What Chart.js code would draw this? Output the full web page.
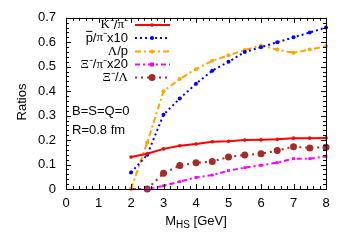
<!DOCTYPE html>
<html>
<head>
<meta charset="utf-8">
<script src="https://cdn.jsdelivr.net/npm/chart.js@4"></script>
<style>
  html, body { margin: 0; padding: 0; background: #fff; }
  #wrap { width: 350px; height: 245px; }
</style>
</head>
<body>
<div id="wrap"><canvas id="chart" width="350" height="245"></canvas></div>
<script>
// values
const massGeV = [2, 2.5, 3, 3.5, 4, 4.5, 5, 5.5, 6, 6.5, 7, 7.5, 8];
const kaonPion = [0.131, 0.144, 0.164, 0.177, 0.184, 0.193, 0.195, 0.2, 0.201, 0.203, 0.208, 0.208, 0.209];
const pbarPionX10 = [0.067, 0.14, 0.304, 0.37, 0.43, 0.484, 0.52, 0.56, 0.58, 0.6, 0.62, 0.64, 0.66];
const lambdaProton = [0, 0.19, 0.4, 0.45, 0.49, 0.524, 0.547, 0.568, 0.587, 0.57, 0.557, 0.57, 0.584];
const xiPionX20 = [0, 0, 0.013, 0.03, 0.047, 0.057, 0.075, 0.087, 0.097, 0.108, 0.124, 0.124, 0.133];
const xiLambda = [null, 0, 0.064, 0.096, 0.107, 0.112, 0.131, 0.139, 0.144, 0.157, 0.173, 0.168, 0.171];

const seriesNames = ['K\u207B/\u03C0\u207B', 'p\u0304/\u03C0\u207Bx10', '\u039B/p', '\u039E\u207B/\u03C0\u207Bx20', '\u039E\u207B/\u039B'];
const xTicks = [0, 1, 2, 3, 4, 5, 6, 7, 8];
const yTicks = [0, 0.1, 0.2, 0.3, 0.4, 0.5, 0.6, 0.7];
const noteLines = ['B=S=Q=0', 'R=0.8 fm'];

const SANS = '"Liberation Sans", Arial, sans-serif';
const SERIF = '"Liberation Serif", "Times New Roman", serif';

const toPoints = (ys) => massGeV.map((x, i) => ({ x, y: ys[i] }));

const styles = [
  { color: '#ff0000', dash: [], width: 2, radius: 1.8, point: 'circle' },
  { color: '#0000ff', dash: [2, 3], width: 2, radius: 2, point: 'circle' },
  { color: '#ffa500', dash: [6, 3, 2, 3], width: 2, radius: 2, point: 'circle' },
  { color: '#ff00ff', dash: [5, 3, 2, 3], width: 2, radius: 2, point: 'rect' },
  { color: '#a52a2a', dash: [2, 4], width: 2, radius: 3.5, point: 'circle' },
];
const allSeries = [kaonPion, pbarPionX10, lambdaProton, xiPionX20, xiLambda];

// draw a label char by char: greek / K / minus in serif, rest in sans
function drawRich(ctx, text, xRight, y, size) {
  const chars = [...text];
  const pieces = [];
  for (let i = 0; i < chars.length; i++) {
    const c = chars[i];
    if (c === '\u0304') { pieces[pieces.length - 1].bar = true; continue; }
    const serif = 'K\u039B\u039E\u03C0\u207B'.includes(c);
    pieces.push({ c, font: `${size}px ${serif ? SERIF : SANS}` });
  }
  let total = 0;
  pieces.forEach((p) => { ctx.font = p.font; p.w = ctx.measureText(p.c).width; total += p.w; });
  let x = xRight - total;
  ctx.textBaseline = 'middle';
  ctx.textAlign = 'left';
  pieces.forEach((p) => {
    ctx.font = p.font;
    ctx.fillText(p.c, x, y);
    if (p.bar) {
      ctx.fillRect(x + 0.5, y - size * 0.55, p.w - 1, 1);
    }
    x += p.w;
  });
}

const framePlugin = {
  id: 'gnuplotFrame',
  afterDatasetsDraw(chart) {
    const { ctx, chartArea: a, scales } = chart;
    ctx.save();
    ctx.strokeStyle = '#000';
    ctx.lineWidth = 1;
    ctx.strokeRect(Math.round(a.left) + 0.5, Math.round(a.top) + 0.5,
      Math.round(a.right - a.left), Math.round(a.bottom - a.top));

    ctx.beginPath();
    // x ticks, major + minor every 0.2
    for (let i = 0; i <= 40; i++) {
      const v = i * 0.2;
      const px = Math.round(scales.x.getPixelForValue(v)) + 0.5;
      const len = i % 5 === 0 ? 5 : 3;
      ctx.moveTo(px, a.bottom); ctx.lineTo(px, a.bottom - len);
      ctx.moveTo(px, a.top); ctx.lineTo(px, a.top + len);
    }
    // y ticks, minor every 0.02
    for (let i = 0; i <= 35; i++) {
      const v = i * 0.02;
      const py = Math.round(scales.y.getPixelForValue(v)) + 0.5;
      const len = i % 5 === 0 ? 5 : 3;
      ctx.moveTo(a.left, py); ctx.lineTo(a.left + len, py);
      ctx.moveTo(a.right, py); ctx.lineTo(a.right - len, py);
    }
    ctx.stroke();

    // legend
    ctx.fillStyle = '#000';
    const rows = [25, 38, 51.5, 64.5, 77.5];
    seriesNames.forEach((name, i) => {
      const s = styles[i];
      drawRich(ctx, name, 128, rows[i], 13);
      ctx.save();
      ctx.strokeStyle = s.color;
      ctx.fillStyle = s.color;
      ctx.lineWidth = s.width;
      ctx.setLineDash(s.dash);
      ctx.beginPath();
      ctx.moveTo(135, rows[i]);
      ctx.lineTo(170, rows[i]);
      ctx.stroke();
      ctx.setLineDash([]);
      ctx.beginPath();
      if (s.point === 'rect') {
        ctx.fillRect(152 - s.radius, rows[i] - s.radius, s.radius * 2, s.radius * 2);
      } else {
        ctx.arc(152, rows[i], s.radius, 0, Math.PI * 2);
        ctx.fill();
      }
      ctx.restore();
    });

    // notes
    ctx.font = `13px ${SANS}`;
    ctx.textAlign = 'left';
    ctx.textBaseline = 'middle';
    ctx.fillText(noteLines[0], 72, 111);
    ctx.fillText(noteLines[1], 72, 130);

    // axis titles
    ctx.save();
    ctx.translate(22, 102);
    ctx.rotate(-Math.PI / 2);
    ctx.textAlign = 'center';
    ctx.font = `13px ${SANS}`;
    ctx.fillText('Ratios', 0, 0);
    ctx.restore();

    ctx.textAlign = 'left';
    ctx.font = `13px ${SANS}`;
    const wM = ctx.measureText('M').width;
    ctx.font = `10px ${SANS}`;
    const wHS = ctx.measureText('HS').width;
    ctx.font = `13px ${SANS}`;
    const wRest = ctx.measureText(' [GeV]').width;
    let x0 = 196 - (wM + wHS + wRest) / 2;
    ctx.fillText('M', x0, 221);
    ctx.font = `10px ${SANS}`;
    ctx.fillText('HS', x0 + wM, 225);
    ctx.font = `13px ${SANS}`;
    ctx.fillText(' [GeV]', x0 + wM + wHS, 221);
    ctx.restore();
  },
};

new Chart(document.getElementById('chart'), {
  type: 'line',
  data: {
    datasets: allSeries.map((ys, i) => ({
      label: seriesNames[i],
      data: toPoints(ys),
      borderColor: styles[i].color,
      backgroundColor: styles[i].color,
      borderWidth: styles[i].width,
      borderDash: styles[i].dash,
      pointRadius: styles[i].radius,
      pointStyle: styles[i].point,
      pointBorderWidth: 0,
      tension: 0,
      spanGaps: false,
      clip: false,
    })),
  },
  options: {
    responsive: false,
    animation: false,
    layout: { padding: { left: 0, right: 24, top: 14, bottom: 0 } },
    plugins: { legend: { display: false }, tooltip: { enabled: false } },
    scales: {
      x: {
        type: 'linear',
        min: 0,
        max: 8,
        afterBuildTicks: (scale) => { scale.ticks = xTicks.map((v) => ({ value: v })); },
        afterFit: (scale) => { scale.height = 56; },
        grid: { display: false, drawTicks: false },
        border: { display: false },
        ticks: { color: '#000', padding: 7, font: { family: SANS, size: 13 }, maxRotation: 0 },
      },
      y: {
        min: 0,
        max: 0.7,
        afterBuildTicks: (scale) => { scale.ticks = yTicks.map((v) => ({ value: v })); },
        afterFit: (scale) => { scale.width = 66; },
        grid: { display: false, drawTicks: false },
        border: { display: false },
        ticks: { color: '#000', padding: 10, font: { family: SANS, size: 13 } },
      },
    },
  },
  plugins: [framePlugin],
});
</script>
</body>
</html>
